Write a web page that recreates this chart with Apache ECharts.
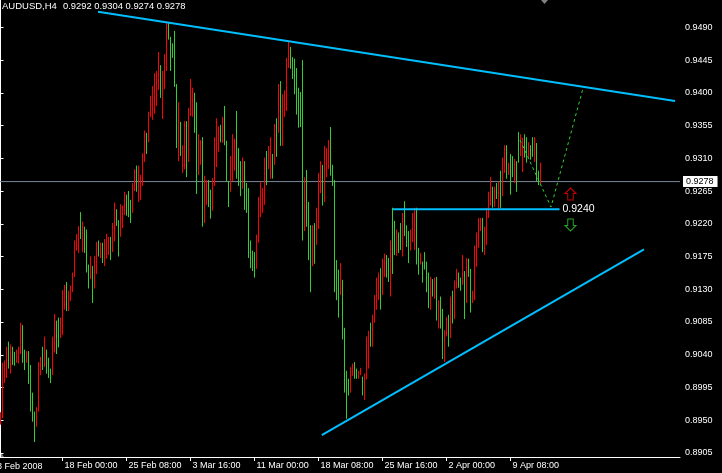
<!DOCTYPE html>
<html><head><meta charset="utf-8">
<script src="https://cdn.jsdelivr.net/npm/echarts@6/dist/echarts.min.js"></script>
<style>html,body{margin:0;padding:0;background:#000;overflow:hidden}#c{width:722px;height:473px}</style>
</head><body><div id="c"></div>
<script>
const symbolName = 'AUDUSD,H4';
const quote = ['0.9292', '0.9304', '0.9274', '0.9278'];
const barHigh = [
.8961,.9029,.9032,.9051,.9058,.9054,.9051,.9044,.9047,.9051,
.9084,.9081,.9047,.9045,.9045,.9026,.8988,.8962,.8968,.9030,
.9037,.9051,.9065,.9047,.9036,.9021,.9065,.9096,.9087,.9091,
.9091,.9129,.9136,.9140,.9128,.9135,.9153,.9197,.9206,.9217,
.9236,.9223,.9216,.9212,.9164,.9175,.9162,.9176,.9195,.9197,
.9194,.9194,.9199,.9206,.9202,.9202,.9221,.9249,.9240,.9225,
.9247,.9245,.9264,.9260,.9265,.9253,.9276,.9295,.9300,.9300,
.9287,.9317,.9348,.9345,.9374,.9396,.9409,.9427,.9430,.9456,
.9438,.9430,.9453,.9497,.9497,.9477,.9468,.9485,.9412,.9387,
.9360,.9328,.9361,.9361,.9379,.9419,.9407,.9400,.9387,.9343,
.9335,.9339,.9286,.9280,.9280,.9267,.9283,.9339,.9365,.9354,
.9356,.9367,.9382,.9334,.9279,.9313,.9343,.9337,.9375,.9324,
.9306,.9311,.9306,.9276,.9269,.9197,.9183,.9181,.9205,.9257,
.9278,.9269,.9311,.9320,.9327,.9339,.9316,.9357,.9365,.9412,
.9416,.9398,.9403,.9448,.9470,.9463,.9449,.9447,.9434,.9407,
.9401,.9445,.9284,.9294,.9250,.9218,.9218,.9221,.9242,.9290,
.9306,.9301,.9327,.9324,.9335,.9353,.9301,.9280,.9170,.9157,
.9166,.9143,.9077,.9018,.9007,.9023,.9028,.9030,.9021,.9018,
.9022,.9010,.9014,.9065,.9073,.9084,.9095,.9122,.9146,.9153,
.9159,.9172,.9179,.9177,.9173,.9197,.9242,.9224,.9212,.9208,
.9221,.9235,.9251,.9218,.9210,.9212,.9235,.9242,.9242,.9187,
.9180,.9168,.9181,.9168,.9153,.9147,.9144,.9146,.9147,.9115,
.9120,.9103,.9074,.9092,.9095,.9120,.9128,.9142,.9158,.9153,
.9146,.9177,.9155,.9173,.9172,.9158,.9128,.9190,.9208,.9228,
.9228,.9228,.9216,.9242,.9264,.9284,.9271,.9271,.9276,.9278,
.9293,.9311,.9328,.9328,.9304,.9316,.9313,.9309,.9306,.9346,
.9343,.9338,.9343,.9339,.9332,.9328,.9339,.9339,.9331,.9293,
.9304];
const barLow = [
.8944,.8953,.9001,.9008,.9021,.9014,.9026,.9025,.9029,.9028,
.9041,.9029,.9019,.9029,.9000,.8962,.8948,.8920,.8941,.8962,
.9012,.9019,.9023,.9014,.9008,.9001,.9012,.9043,.9041,.9050,
.9063,.9067,.9102,.9100,.9100,.9114,.9126,.9147,.9183,.9180,
.9199,.9181,.9180,.9153,.9131,.9144,.9111,.9131,.9151,.9175,
.9173,.9166,.9162,.9172,.9177,.9170,.9181,.9196,.9217,.9175,
.9202,.9214,.9232,.9231,.9229,.9221,.9235,.9265,.9264,.9250,
.9253,.9272,.9305,.9316,.9332,.9367,.9363,.9371,.9382,.9404,
.9393,.9364,.9405,.9430,.9473,.9430,.9448,.9408,.9324,.9306,
.9313,.9290,.9295,.9284,.9305,.9368,.9367,.9345,.9261,.9287,
.9301,.9216,.9221,.9246,.9243,.9227,.9238,.9272,.9298,.9319,
.9332,.9331,.9328,.9278,.9243,.9264,.9279,.9293,.9282,.9272,
.9258,.9268,.9239,.9235,.9173,.9159,.9155,.9146,.9158,.9194,
.9229,.9235,.9246,.9273,.9295,.9282,.9282,.9301,.9312,.9345,
.9327,.9327,.9367,.9375,.9434,.9433,.9419,.9398,.9370,.9352,
.9353,.9197,.9210,.9216,.9170,.9126,.9162,.9165,.9191,.9213,
.9262,.9245,.9250,.9284,.9295,.9286,.9272,.9126,.9115,.9091,
.9122,.9061,.8988,.8952,.8984,.8988,.9011,.9007,.9007,.9007,
.9012,.8984,.8978,.9006,.9021,.9051,.9051,.9084,.9102,.9115,
.9102,.9122,.9147,.9146,.9140,.9120,.9151,.9177,.9176,.9180,
.9184,.9175,.9203,.9188,.9166,.9183,.9195,.9184,.9164,.9150,
.9164,.9139,.9157,.9126,.9104,.9102,.9120,.9117,.9087,.9076,
.9076,.9034,.9030,.9065,.9051,.9063,.9083,.9089,.9131,.9132,
.9128,.9136,.9089,.9111,.9147,.9098,.9111,.9115,.9161,.9187,
.9210,.9181,.9177,.9191,.9228,.9245,.9242,.9243,.9254,.9239,
.9242,.9258,.9290,.9282,.9287,.9260,.9284,.9276,.9264,.9304,
.9313,.9291,.9311,.9304,.9311,.9308,.9312,.9305,.9278,.9273,
.9274];
// 1 = red bar, 0 = green bar
const barRed = [
1,1,1,1,0,1,0,0,1,1, 1,0,0,1,0,0,0,0,1,1, 1,0,1,0,0,0,1,1,0,0,
1,1,1,0,1,1,1,1,1,1, 0,1,0,0,0,1,0,1,1,0, 1,0,1,1,1,0,1,1,0,0,
1,1,1,0,0,0,1,1,0,1, 1,1,1,0,1,1,1,1,1,1, 0,1,1,1,0,0,0,0,0,1,
0,1,1,0,1,1,1,0,0,1, 1,0,1,1,0,0,1,1,1,1, 0,1,0,0,0,1,1,1,0,0,
0,1,0,0,0,0,0,0,1,1, 1,1,1,0,1,1,0,1,0,1, 0,1,1,1,1,0,0,0,0,0,
0,0,1,0,0,0,1,0,1,1, 1,0,1,1,1,0,0,0,0,0, 1,0,0,0,0,1,1,0,0,1,
1,0,1,1,1,0,1,1,1,1, 0,1,1,0,0,1,0,0,1,0, 0,1,0,0,0,1,1,1,0,0,
1,0,0,0,0,1,0,1,0,1, 0,0,1,1,0,1,0,1,1,0, 0,1,0,1,0,0,1,1,1,1,
1,0,1,1,1,1,0,1,0,1, 0,1,1,0,1,0,0,1,0,0, 1,1,0,0,1,0,0,1,0,0,
1];
const priceTicks = [0.8905,0.8950,0.8995,0.9040,0.9085,0.9130,0.9175,0.9220,0.9265,0.9310,0.9355,0.9400,0.9445,0.9490];
const timeTickBars = [31, 63, 95, 127, 159, 191, 223, 255];
const timeTickLabels = ['18 Feb 00:00','25 Feb 08:00','3 Mar 16:00','11 Mar 00:00','18 Mar 08:00','25 Mar 16:00','2 Apr 00:00','9 Apr 08:00'];
const firstDateLabel = '8 Feb 2008';
const lastPrice = 0.9278;
const resistanceLine = [[48.75, 0.95114], [337.25, 0.93887]];
const supportLine = [[160.65, 0.89297], [321.75, 0.91849]];
const breakLevel = [[196.25, 0.9240], [279.5, 0.9240]];
const breakLabel = '0.9240';
const projection = [[259.75, 0.93351], [275.25, 0.9243], [291.25, 0.94062]];
const arrowUp = [[285, 0.92609]];
const arrowDown = [[285, 0.92183]];

const FONT = 'Liberation Sans, Arial, sans-serif';
const RED = '#ff0000', GREEN = '#32cd32', CYAN = '#00bfff';
const X_MIN = -0.25, X_MAX = 339.75;

const chart = echarts.init(document.getElementById('c'), null, {renderer: 'canvas'});
const bars = barHigh.map((h, i) => [i, barLow[i], h, barRed[i]]);

chart.setOption({
  backgroundColor: '#000',
  animation: false,
  grid: {left: 0, right: 42, top: 0, bottom: 16, containLabel: false},
  xAxis: {
    type: 'value', min: X_MIN, max: X_MAX,
    splitLine: {show: false},
    axisLine: {show: true, lineStyle: {color: '#ffffff', width: 1}},
    axisTick: {show: true, customValues: timeTickBars, length: 4, lineStyle: {color: '#ffffff'}},
    axisLabel: {
      show: true, customValues: timeTickBars, color: '#ffffff', fontSize: 9, fontFamily: FONT,
      align: 'left', verticalAlign: 'top', margin: 4, padding: [0, 0, 0, 2], lineHeight: 10,
      formatter: v => { const k = timeTickBars.indexOf(Math.round(v)); return k >= 0 ? timeTickLabels[k] : ''; }
    }
  },
  yAxis: {
    type: 'value', position: 'right', min: 0.88995, max: 0.95275,
    splitLine: {show: false},
    axisLine: {show: true, lineStyle: {color: '#ffffff', width: 1}},
    axisTick: {show: true, customValues: priceTicks, length: 3, lineStyle: {color: '#ffffff'}},
    axisLabel: {
      show: true, customValues: priceTicks, color: '#ffffff', fontSize: 9, fontFamily: FONT, margin: 5,
      formatter: v => v.toFixed(4)
    }
  },
  series: [
    {type: 'line', data: [[X_MIN, lastPrice], [X_MAX, lastPrice]], symbol: 'none', silent: true,
     lineStyle: {color: '#778899', width: 1}, z: 1,
     endLabel: {show: true, formatter: quote[3], distance: 3, backgroundColor: '#ffffff',
                color: '#000000', fontSize: 9, fontFamily: FONT, padding: [1, 4, 1, 3]}},
    {
      type: 'custom', silent: true, clip: true,
      encode: {x: 0, y: [1, 2]},
      data: bars,
      renderItem: (params, api) => {
        const i = api.value(0);
        const top = api.coord([i, api.value(2)]);
        const bot = api.coord([i, api.value(1)]);
        return {type: 'line', shape: {x1: top[0], y1: top[1], x2: bot[0], y2: bot[1]},
                style: {stroke: api.value(3) ? RED : GREEN, lineWidth: 1}};
      },
      z: 2
    },
    {type: 'line', data: resistanceLine, symbol: 'none', silent: true,
     lineStyle: {color: CYAN, width: 2}, z: 3},
    {type: 'line', data: supportLine, symbol: 'none', silent: true,
     lineStyle: {color: CYAN, width: 2}, z: 3},
    {type: 'line', data: breakLevel, symbol: 'none', silent: true,
     lineStyle: {color: CYAN, width: 2}, z: 3,
     endLabel: {show: true, formatter: breakLabel, color: '#ffffff', fontSize: 10.5, fontFamily: FONT, distance: 3}},
    {type: 'line', data: projection, symbol: 'none', silent: true,
     lineStyle: {color: GREEN, width: 1, type: [3, 3]}, z: 3},
    {type: 'scatter', data: arrowUp, silent: true, z: 4,
     symbol: 'path://M6 0 L12 6 L9 6 L9 13 L3 13 L3 6 L0 6 Z', symbolSize: [11, 12],
     itemStyle: {color: 'rgba(0,0,0,0)', borderColor: RED, borderWidth: 1}},
    {type: 'scatter', data: arrowDown, silent: true, z: 4,
     symbol: 'path://M3 0 L9 0 L9 7 L12 7 L6 13 L0 7 L3 7 Z', symbolSize: [11, 12],
     itemStyle: {color: 'rgba(0,0,0,0)', borderColor: GREEN, borderWidth: 1}}
  ],
  graphic: [
    {type: 'text', x: 2, y: 6, silent: true, style: {text: symbolName, fill: '#ffffff', font: '9.5px ' + FONT, verticalAlign: 'middle'}},
    {type: 'text', x: 63, y: 6, silent: true, style: {text: quote.join(' '), fill: '#ffffff', font: '9.4px ' + FONT, verticalAlign: 'middle'}},
    {type: 'text', x: -3, y: 466.5, silent: true, style: {text: firstDateLabel, fill: '#ffffff', font: '9px ' + FONT, verticalAlign: 'middle'}},
    {type: 'polygon', silent: true, shape: {points: [[541, 0], [548, 0], [544.5, 4]]}, style: {fill: '#808080'}},
    {type: 'polygon', silent: true, shape: {points: [[0, 451], [0, 457], [4, 457]]}, style: {fill: '#808080'}}
  ]
});
</script>
</body></html>
